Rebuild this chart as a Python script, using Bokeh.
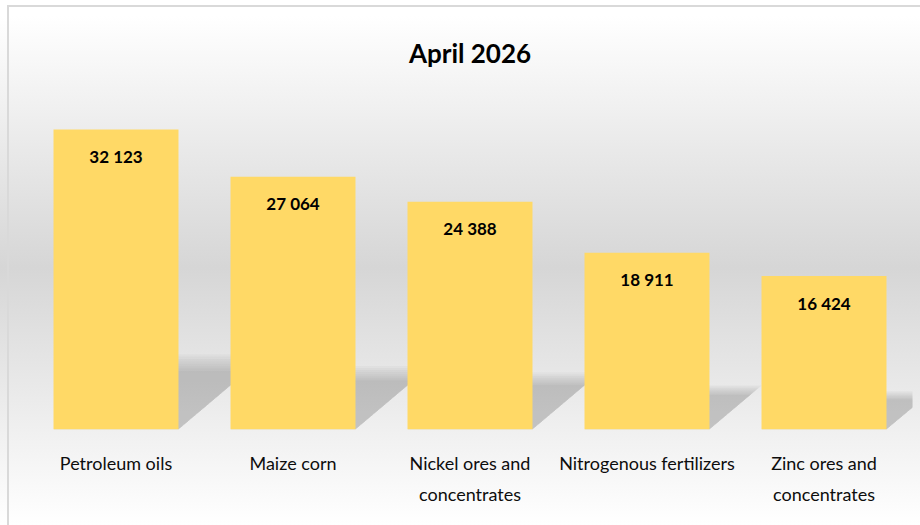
from bokeh.plotting import figure
from bokeh.models import Range1d, FixedTicker
from bokeh.core.properties import value
from bokeh.embed import file_html
from bokeh.resources import INLINE

# ---- data ----
title_text = "April 2026"
categories = ["Petroleum oils", "Maize corn", "Nickel ores and concentrates",
              "Nitrogenous fertilizers", "Zinc ores and concentrates"]
tick_labels = ["Petroleum oils", "Maize corn", "Nickel ores and\nconcentrates",
               "Nitrogenous fertilizers", "Zinc ores and\nconcentrates"]
values = [32123, 27064, 24388, 18911, 16424]

FONT = "Lato"
BAR_COLOR = "#FFD966"
BAR_W = 0.706

xs = list(range(len(categories)))
value_labels = [f"{v:,}".replace(",", " ") for v in values]

p = figure(width=920, height=525, output_backend="svg", toolbar_location=None,
           x_range=Range1d(-0.5, len(categories) - 0.5), y_range=Range1d(0, 34580),
           min_border_left=27, min_border_right=8, min_border_bottom=96, min_border_top=101)
p.background_fill_color = None
p.border_fill_color = None
p.outline_line_color = None
p.styles = {
    "background": ("linear-gradient(#d9d9d9, #d9d9d9) 7px 5px / 2px 100% no-repeat, "
                   "linear-gradient(#d9d9d9, #d9d9d9) 7px 5px / 100% 2px no-repeat, "
                   "linear-gradient(to bottom, #ffffff 3%, #d6d6d6 51%, #ffffff 100%)"),
}

# title
p.title.text = title_text
p.title.align = "center"
p.title.vertical_align = "top"
p.title.text_font = FONT
p.title.text_font_size = "26px"
p.title.text_font_style = "bold"
p.title.text_color = "#000000"
p.title.standoff = 72

# perspective shadows (derived from the values)
N_LAYERS = 8
for layer in range(N_LAYERS):
    s = 0.195 + 0.008 * layer
    k = 1.22e-5 + 0.05e-5 * layer
    sxs, sys = [], []
    for i, v in zip(xs, values):
        x0, x1 = i - BAR_W / 2, i + BAR_W / 2
        d = v * k
        top = s * v
        sxs.append([x0, x1, x1 + d, x0 + d])
        sys.append([0, 0, top, top])
    p.patches(sxs, sys, fill_color="#000000", fill_alpha=0.022, line_color=None)

# bars
p.vbar(x=xs, top=values, bottom=0, width=BAR_W, fill_color=BAR_COLOR, line_color=None)

# value labels
p.text(x=xs, y=values, text=value_labels, text_align="center", text_baseline="middle",
       y_offset=27, text_font=value(FONT), text_font_style="bold",
       text_font_size="17px", text_color="#000000")

# axes
p.yaxis.visible = False
p.grid.visible = False
ax = p.xaxis[0]
ax.ticker = FixedTicker(ticks=xs)
ax.major_label_overrides = {i: lab for i, lab in zip(xs, tick_labels)}
ax.axis_line_color = None
ax.major_tick_line_color = None
ax.minor_tick_line_color = None
ax.major_label_standoff = 16
ax.major_label_text_font = FONT
ax.major_label_text_font_size = "18px"
ax.major_label_text_line_height = 1.45
ax.major_label_text_color = "#0d0d0d"

open("out.html", "w").write(file_html(p, INLINE))
